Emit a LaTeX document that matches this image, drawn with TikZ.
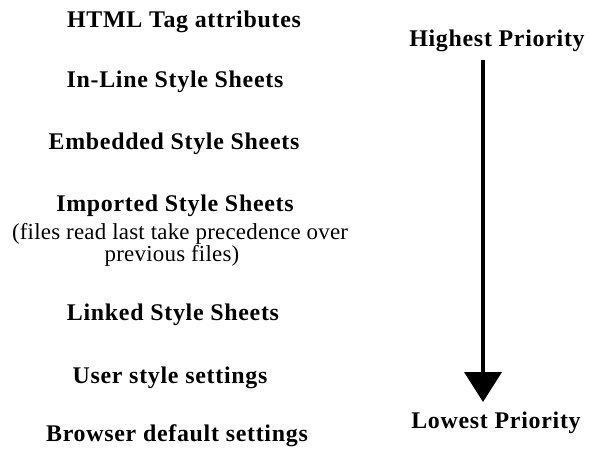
\documentclass[tikz,border=0pt]{standalone}
\usepackage{fontspec}
\setmainfont{Liberation Serif}
\usetikzlibrary{arrows.meta}
\newfontfamily\boldsp[LetterSpace=3]{Liberation Serif Bold}
\newfontfamily\regsp[LetterSpace=1]{Liberation Serif}
\tikzset{
  item/.style={anchor=base, inner sep=0pt, font=\boldsp\fontsize{24}{27}\selectfont},
  note/.style={anchor=base, inner sep=0pt, font=\regsp\fontsize{23}{26}\selectfont},
  prio/.style={anchor=base, inner sep=0pt, font=\boldsp\fontsize{24}{27}\selectfont},
}
\begin{document}
\begin{tikzpicture}[x=1bp,y=-1bp]
\useasboundingbox (0,0) rectangle (590,454);
\node[item] (html) at (184,28) {HTML Tag attributes};
\node[item] (inline) at (175,88) {In-Line Style Sheets};
\node[item] (emb) at (174,150) {Embedded Style Sheets};
\node[item] (imp) at (175,212) {Imported Style Sheets};
\node[note] (files1) at (180,240) {(files read last take precedence over};
\node[note] (files2) at (172,262) {previous files)};
\node[item] (linked) at (173,320) {Linked Style Sheets};
\node[item] (user) at (170,383) {User style settings};
\node[item] (browser) at (177,441) {Browser default settings};
\node[prio] (high) at (497,47) {Highest Priority};
\node[prio] (low) at (496,428) {Lowest Priority};
\coordinate (astart) at (483,60);
\coordinate (aend) at (483,402);
\draw[line width=4bp, -{Triangle[width=37bp,length=30bp]}] (astart) -- (aend);
\end{tikzpicture}
\end{document}
